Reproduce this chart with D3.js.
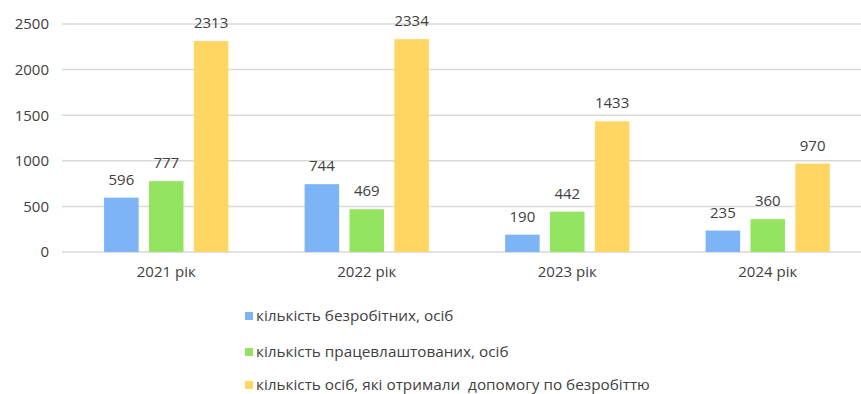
<!DOCTYPE html>
<html>
<head>
<meta charset="utf-8">
<script src="https://cdn.jsdelivr.net/npm/d3@7"></script>
<style>
  html, body { margin: 0; padding: 0; background: #ffffff; }
  svg { display: block; }
</style>
</head>
<body>
<script>
// Chart data
const years = ["2021 рік", "2022 рік", "2023 рік", "2024 рік"];
const seriesNames = [
  "кількість безробітних, осіб",
  "кількість працевлаштованих, осіб",
  "кількість осіб, які отримали  допомогу по безробіттю"
];
const unemployed = [596, 744, 190, 235];
const employed = [777, 469, 442, 360];
const benefit = [2313, 2334, 1433, 970];
const yTicks = [0, 500, 1000, 1500, 2000, 2500];
const colors = ["#7cb4f6", "#93e460", "#ffd664"];

const seriesValues = [unemployed, employed, benefit];

const W = 861, H = 394;
const FONT = "'Open Sans', 'Liberation Sans', sans-serif";
const svg = d3.select("body").append("svg")
  .attr("width", W).attr("height", H)
  .style("font-family", FONT);

const y = d3.scaleLinear().domain([0, 2500]).range([252, 24]);
const x = d3.scaleBand().domain(years).range([66, 868]).paddingInner(0).paddingOuter(0);
const inner = d3.scaleBand().domain(d3.range(seriesNames.length))
  .range([x.bandwidth() * 0.19, x.bandwidth() * 0.81]).paddingInner(0.23).paddingOuter(0);

// Gridlines
svg.append("g").selectAll("line").data(yTicks).join("line")
  .attr("x1", 62).attr("x2", 861)
  .attr("y1", d => y(d)).attr("y2", d => y(d))
  .attr("stroke", "#d9d9d9").attr("stroke-width", 1.5);

// Y axis labels
const yAxis = svg.append("g").attr("transform", "translate(49,0)")
  .call(d3.axisLeft(y).tickValues(yTicks).tickSize(0).tickPadding(0).tickFormat(d3.format("d")));
yAxis.select(".domain").remove();
yAxis.selectAll("text").attr("font-size", 15).attr("fill", "#404040")
  .attr("font-family", FONT);

// Bars
const groups = svg.append("g").selectAll("g").data(years).join("g")
  .attr("transform", d => `translate(${x(d)},0)`);

groups.selectAll("rect")
  .data((d, i) => seriesValues.map((s, k) => ({ k, v: s[i] })))
  .join("rect")
  .attr("x", d => inner(d.k))
  .attr("width", inner.bandwidth())
  .attr("y", d => y(d.v))
  .attr("height", d => y(0) - y(d.v))
  .attr("fill", d => colors[d.k]);

// Value labels
groups.selectAll("text.val")
  .data((d, i) => seriesValues.map((s, k) => ({ k, v: s[i] })))
  .join("text")
  .attr("class", "val")
  .attr("x", d => inner(d.k) + inner.bandwidth() / 2)
  .attr("y", d => y(d.v) - 13)
  .attr("text-anchor", "middle")
  .attr("font-size", 15)
  .attr("fill", "#404040")
  .text(d => d.v);

// X axis labels
const xAxis = svg.append("g").attr("transform", "translate(0,266)")
  .call(d3.axisBottom(x).tickSize(0).tickPadding(0));
xAxis.select(".domain").remove();
xAxis.selectAll("text").attr("font-size", 15).attr("fill", "#404040")
  .attr("font-family", FONT);

// Legend
const legendY = [316, 352, 385];
const legend = svg.append("g").selectAll("g").data(seriesNames).join("g")
  .attr("transform", (d, i) => `translate(245,${legendY[i]})`);
legend.append("rect")
  .attr("x", 0).attr("y", -4).attr("width", 8).attr("height", 8)
  .attr("fill", (d, i) => colors[i]);
legend.append("text")
  .attr("x", 11).attr("y", 0).attr("dy", "0.35em")
  .attr("font-size", 15.3).attr("fill", "#404040")
  .style("white-space", "pre")
  .text(d => d);
</script>
</body>
</html>
